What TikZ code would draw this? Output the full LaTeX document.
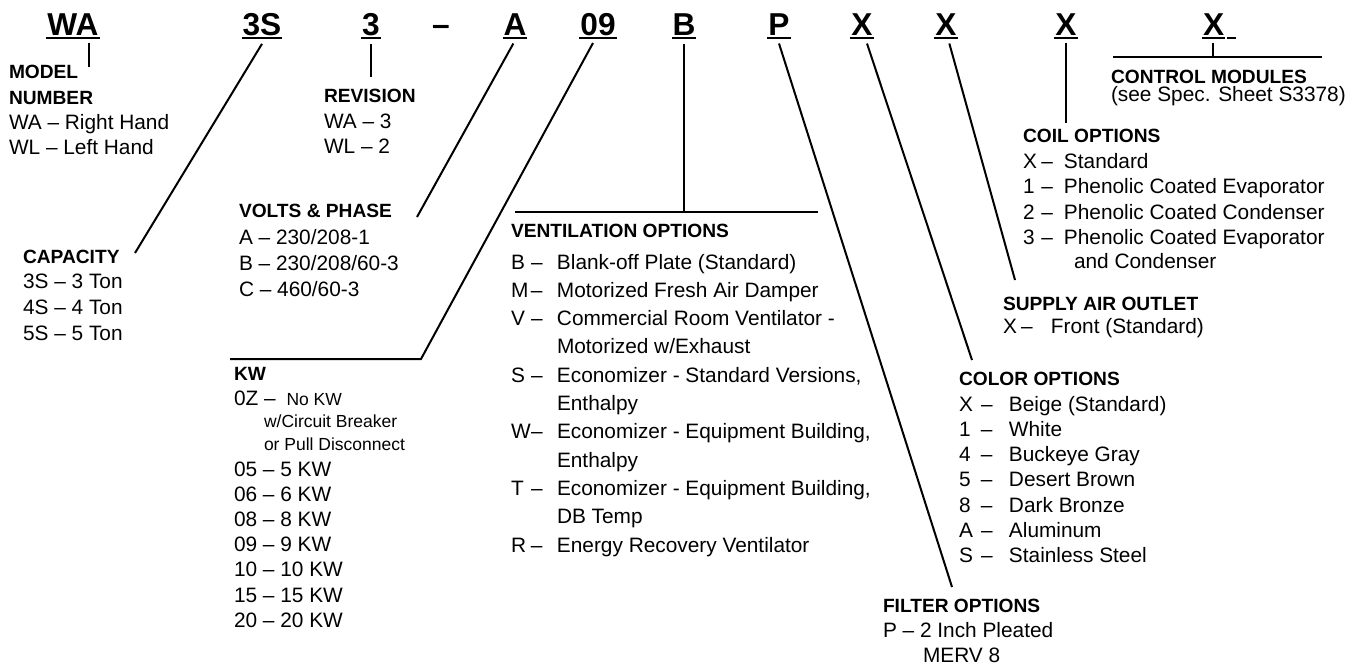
\documentclass[tikz,border=0pt]{standalone}
\usepackage{fontspec}
\setmainfont{Liberation Sans}
\newcommand{\optrow}[4]{\makebox[#1][l]{#3}\makebox[#2][l]{\ifx#3\empty\else--\fi}#4}

\begin{document}
\begin{tikzpicture}[x=0.6pt, y=-0.6pt, line width=1.2pt,
  code/.style={font=\fontsize{19}{21}\selectfont\bfseries, anchor=base, inner sep=0pt},
  head/.style={font=\fontsize{11.5}{13}\selectfont\bfseries, anchor=base west, inner sep=0pt},
  entry/.style={font=\fontsize{12.5}{14}\selectfont, anchor=base west, inner sep=0pt},
  note/.style={font=\fontsize{10.5}{12}\selectfont, anchor=base west, inner sep=0pt}]
  \useasboundingbox (0,0) rectangle (1359,667);

  % model number code
  \node[code] (cWA) at (73,35) {WA};
  \node[code] (c3S) at (262,35) {3S};
  \node[code] (cRev) at (371,35) {3};
  \node[code] (cDash) at (441,35) {--};
  \node[code] (cA) at (515,35) {A};
  \node[code] (c09) at (598,35) {09};
  \node[code] (cB) at (684,35) {B};
  \node[code] (cP) at (779,35) {P};
  \node[code] (cCol) at (862,35) {X};
  \node[code] (cSup) at (946,35) {X};
  \node[code] (cCoil) at (1066,35) {X};
  \node[code, anchor=base west] (cCtl) at (1202,35) {X};
  \foreach \n in {cWA,c3S,cRev,cA,c09,cB,cP,cCol,cSup,cCoil,cCtl}
    \draw ([yshift=-1.8pt]\n.base west) -- ([yshift=-1.8pt]\n.base east);
  \draw ([xshift=1.2pt,yshift=-1.8pt]cCtl.base east) -- ++(9,0);

  % leader lines
  \coordinate (modelTip) at (89,67);
  \draw ([yshift=-4pt]cWA.south -| modelTip) -- (modelTip);
  \coordinate (capTip) at (135,253);
  \draw ([yshift=-4.5pt]c3S.south) -- (capTip);
  \coordinate (revTip) at (371,77);
  \draw ([yshift=-4.5pt]cRev.south) -- (revTip);
  \coordinate (voltTip) at (417,217);
  \draw ([xshift=-1pt,yshift=-4.5pt]cA.south) -- (voltTip);
  \coordinate (kwBend) at (421,359);
  \coordinate (kwEnd) at (230,359);
  \draw ([xshift=-3pt,yshift=-4pt]c09.south) -- (kwBend) -- (kwEnd);
  \coordinate (ventL) at (515,212);
  \coordinate (ventR) at (818,212);
  \draw ([yshift=-4.5pt]cB.south) -- (cB.south |- ventL);
  \draw (ventL) -- (ventR);
  \coordinate (filtTip) at (952,587);
  \draw ([yshift=-4.5pt]cP.south) -- (filtTip);
  \coordinate (colTip) at (972,360);
  \draw ([xshift=3pt,yshift=-4.5pt]cCol.south) -- (colTip);
  \coordinate (supTip) at (1015,280);
  \draw ([xshift=2pt,yshift=-4.5pt]cSup.south) -- (supTip);
  \coordinate (coilTip) at (1066,123);
  \draw ([yshift=-4pt]cCoil.south) -- (coilTip);
  \coordinate (ctlJoin) at (1213,57);
  \coordinate (ctlL) at (1113,57);
  \coordinate (ctlR) at (1322,57);
  \draw ([yshift=-4pt]cCtl.south -| ctlJoin) -- (ctlJoin);
  \draw (ctlL) -- (ctlR);

  % model number
  \node[head] (hModel) at (8,78) {MODEL};
  \node[head] (hNumber) at (8,104) {NUMBER};
  \node[entry] (model1) at (8,129) {WA -- Right Hand};
  \node[entry] (model2) at (8,154) {WL -- Left Hand};

  % revision
  \node[head] (hRev) at (323,102) {REVISION};
  \node[entry] (rev1) at (323,128) {WA -- 3};
  \node[entry] (rev2) at (323,153) {WL -- 2};

  % capacity
  \node[head] (hCap) at (22,263) {CAPACITY};
  \foreach \t [count=\i] in {3S -- 3 Ton, 4S -- 4 Ton, 5S -- 5 Ton}
    \node[entry] (cap\i) at (22,263+25.7*\i) {\t};

  % volts and phase
  \node[head] (hVolt) at (238,217) {VOLTS \& PHASE};
  \foreach \t [count=\i] in {A -- 230/208-1, B -- 230/208/60-3, C -- 460/60-3}
    \node[entry] (volt\i) at (238,219+25.7*\i) {\t};

  % kw
  \node[head] (hKW) at (233,380) {KW};
  \node[entry] (kw0) at (233,405) {0Z --\hspace{6.5pt}{\fontsize{10.5}{12}\selectfont No KW}};
  \node[note] (kwA) at (263,427) {w/Circuit Breaker};
  \node[note] (kwB) at (263,450) {or Pull Disconnect};
  \foreach \t [count=\i] in {05 -- 5 KW, 06 -- 6 KW, 08 -- 8 KW, 09 -- 9 KW,
      10 -- 10 KW, 15 -- 15 KW, 20 -- 20 KW}
    \node[entry] (kw\i) at (233,451+25.17*\i) {\t};

  % ventilation options
  \node[head] (hVent) at (510,237) {VENTILATION OPTIONS};
  \foreach \k/\t [count=\i from 0] in {B/{Blank-off Plate (Standard)},
      M/{Motorized Fresh Air Damper}, V/{Commercial Room Ventilator -},
      {}/{Motorized w/Exhaust}, S/{Economizer - Standard Versions,},
      {}/{Enthalpy}, W/{Economizer - Equipment Building,}, {}/{Enthalpy},
      T/{Economizer - Equipment Building,}, {}/{DB Temp},
      R/{Energy Recovery Ventilator}}
    \node[entry] (vent\i) at (510,269+28.3*\i) {\optrow{12pt}{15.6pt}{\k}{\t}};

  % filter options
  \node[head] (hFilt) at (882,612) {FILTER OPTIONS};
  \node[entry] (filt1) at (882,637) {P -- 2 Inch Pleated};
  \node[entry] (filt2) at (922,662) {MERV 8};

  % color options
  \node[head] (hCol) at (958,385) {COLOR OPTIONS};
  \foreach \k/\t [count=\i from 0] in {X/{Beige (Standard)}, 1/White,
      4/{Buckeye Gray}, 5/{Desert Brown}, 8/{Dark Bronze}, A/Aluminum,
      S/{Stainless Steel}}
    \node[entry] (col\i) at (958,411+25.3*\i) {\optrow{13.2pt}{16.8pt}{\k}{\t}};

  % supply air outlet
  \node[head] (hSup) at (1002,310) {SUPPLY AIR OUTLET};
  \node[entry] (sup1) at (1002,333) {\optrow{10.8pt}{18pt}{X}{Front (Standard)}};

  % coil options
  \node[head] (hCoil) at (1022,142) {COIL OPTIONS};
  \foreach \k/\t [count=\i from 0] in {X/Standard, 1/{Phenolic Coated Evaporator},
      2/{Phenolic Coated Condenser}, 3/{Phenolic Coated Evaporator}}
    \node[entry] (coil\i) at (1022,168+25.6*\i) {\optrow{11pt}{13.6pt}{\k}{\t}};
  \node[entry] (coil4) at (1073,268) {and Condenser};

  % control modules
  \node[head] (hCtl) at (1110,83) {CONTROL MODULES};
  \node[entry] (ctl1) at (1110,101) {(see Spec. Sheet S3378)};
\end{tikzpicture}
\end{document}
